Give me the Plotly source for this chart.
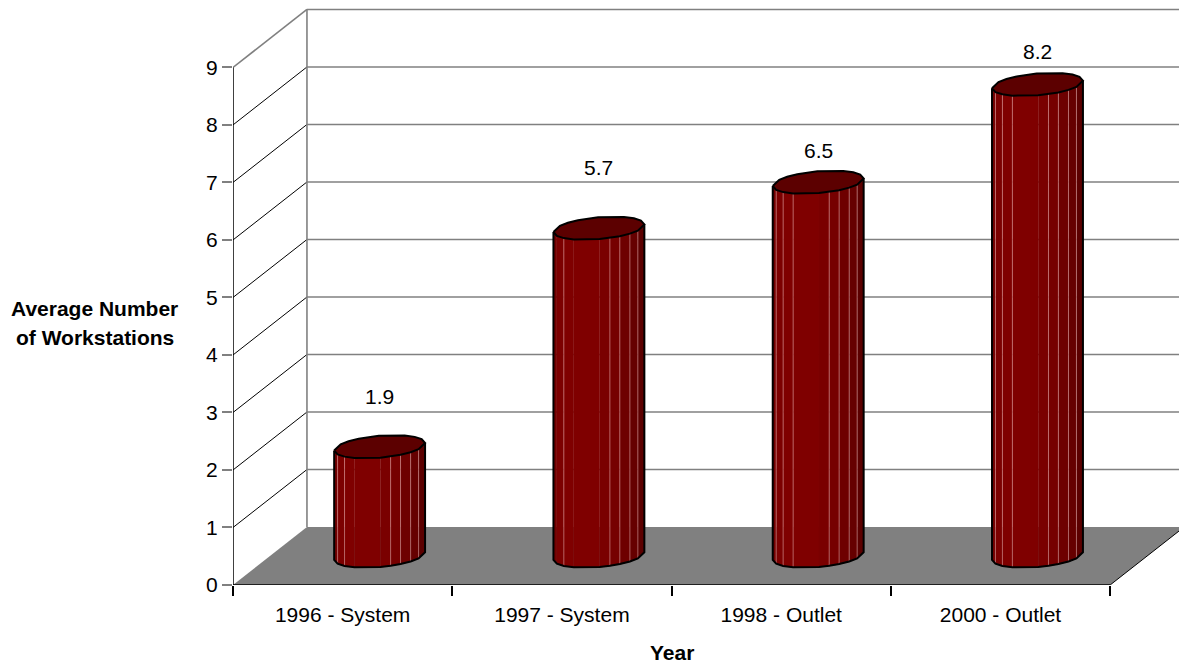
import math
import plotly.graph_objects as go

# Survey results
categories = ["1996 - System", "1997 - System", "1998 - Outlet", "2000 - Outlet"]
workstations = [1.9, 5.7, 6.5, 8.2]
y_ticks = [0, 1, 2, 3, 4, 5, 6, 7, 8, 9]
x_title = "Year"
y_title_lines = ["Average Number", "of Workstations"]
label_offsets = [50, 61, 32, 33]  # pixels between a column top and its value label

FONT = "Liberation Sans"
FONT_SIZE = 21
GREY = "#808080"
WIDTH, HEIGHT = 1179, 663
LEFT, BOTTOM = 232.5, 77.5
X_UNIT, Y_UNIT = 219.4, 57.56
DEPTH_X = 74 / X_UNIT  # horizontal run of the oblique depth axis, in category units
DEPTH_Y = 58 / Y_UNIT  # vertical rise of the oblique depth axis, in value units
RADIUS_X = 43 / X_UNIT
RADIUS_D = 0.2

# Facet corners around a column, in degrees (front half, left to right)
FRONT_ANGLES = [-161, -138.6, -121.5, -104.5, -70, -57, -43.6, -28, -12, 19]
BACK_ANGLES = [a + 180 for a in FRONT_ANGLES[:-1]]
FACET_COLORS = ["#740000", "#7c0000", "#7f0000", "#7f0000", "#7a0000",
                "#760000", "#6e0000", "#660000", "#5c0000"]
# Which facet edges catch the light on each column
STRIPES = [[1, 2, 5, 6, 7, 8], [2, 5, 6, 7, 8], [1, 2, 3, 5, 6, 7, 8], [1, 2, 3, 5, 6, 7, 8]]


def project(cat, depth, value):
    """Oblique projection from (category, depth, value) to axis coordinates."""
    return cat + depth * DEPTH_X, value + depth * DEPTH_Y


def line(points, color, width):
    return go.Scatter(x=[p[0] for p in points], y=[p[1] for p in points],
                      mode="lines", line=dict(color=color, width=width),
                      hoverinfo="skip", showlegend=False, cliponaxis=False)


def polygon(points, fill, outline=None, width=0):
    return go.Scatter(x=[p[0] for p in points], y=[p[1] for p in points],
                      mode="lines", fill="toself", fillcolor=fill,
                      line=dict(color=outline or fill, width=width),
                      hoverinfo="skip", showlegend=False, cliponaxis=False)


def rim(center, value, angle):
    t = math.radians(angle)
    return project(center + RADIUS_X * math.cos(t), 0.5 + RADIUS_D * math.sin(t), value)


fig = go.Figure()
count = len(categories)

# Floor
fig.add_trace(polygon([project(0, 0, 0), project(count, 0, 0),
                       project(count, 1, 0), project(0, 1, 0)], GREY))

# Back wall and side wall rules
for tick in y_ticks[1:]:
    fig.add_trace(line([project(0, 1, tick), project(count, 1, tick)], GREY, 1.6))
    fig.add_trace(line([project(0, 0, tick), project(0, 1, tick)],
                       GREY if tick == y_ticks[-1] else "#000000",
                       1.6 if tick == y_ticks[-1] else 1))
fig.add_trace(line([project(0, 1, y_ticks[0]), project(0, 1, y_ticks[-1])], GREY, 1.6))
fig.add_trace(line([project(count, 0, 0), project(count, 1, 0)], "#000000", 1))

# Columns
for i, value in enumerate(workstations):
    center = i + 0.5
    for k, fill in enumerate(FACET_COLORS):
        a0, a1 = FRONT_ANGLES[k], FRONT_ANGLES[k + 1]
        fig.add_trace(polygon([rim(center, 0, a0), rim(center, 0, a1),
                               rim(center, value, a1), rim(center, value, a0)], fill, fill, 0.5))
    for k in STRIPES[i]:
        fig.add_trace(line([rim(center, 0, FRONT_ANGLES[k]), rim(center, value, FRONT_ANGLES[k])],
                           "rgba(255,205,205,0.45)", 1))
    outline = ([rim(center, value, FRONT_ANGLES[0])]
               + [rim(center, 0, a) for a in FRONT_ANGLES]
               + [rim(center, value, FRONT_ANGLES[-1])])
    fig.add_trace(line(outline, "#000000", 2))
    top = [rim(center, value, a) for a in FRONT_ANGLES + BACK_ANGLES]
    fig.add_trace(polygon(top + top[:1], "#5c0000", "#000000", 2))

# Front axis lines
fig.add_trace(line([project(0, 0, 0), project(count, 0, 0)], "#000000", 1.5))
fig.add_trace(line([project(0, 0, y_ticks[0]), project(0, 0, y_ticks[-1])], "#000000", 1.5))

text_font = dict(family=FONT, size=FONT_SIZE, color="#000000")
annotations = [
    dict(x=i + 0.5 + 0.5 * DEPTH_X, y=value + 0.5 * DEPTH_Y, yshift=off, text=f"{value}",
         showarrow=False, font=text_font)
    for i, (value, off) in enumerate(zip(workstations, label_offsets))
]
annotations.append(dict(x=count / 2, y=0, yshift=-67, text=f"<b>{x_title}</b>",
                        showarrow=False, font=text_font))
for row, title_line in enumerate(y_title_lines):
    annotations.append(dict(xref="paper", x=0, xanchor="center", xshift=-138.5, y=y_ticks[5],
                            yshift=-11 - 29 * row, text=f"<b>{title_line}</b>",
                            showarrow=False, font=text_font))

fig.update_layout(
    width=WIDTH, height=HEIGHT, margin=dict(l=LEFT, r=0, t=0, b=BOTTOM, pad=0),
    paper_bgcolor="#ffffff", plot_bgcolor="#ffffff", showlegend=False,
    font=text_font,
    annotations=annotations,
    xaxis=dict(range=[0, (WIDTH - LEFT) / X_UNIT], showgrid=False, zeroline=False, showline=False,
               tickmode="array", tickvals=[i + 0.5 for i in range(count)], ticktext=categories,
               ticks="", ticklabelstandoff=15,
               minor=dict(tickmode="array", tickvals=list(range(count + 1)), ticks="outside",
                          ticklen=10, tickwidth=1.5, tickcolor="#000000", showgrid=False)),
    yaxis=dict(range=[0, (HEIGHT - BOTTOM) / Y_UNIT], showgrid=False, zeroline=False, showline=False,
               tickmode="array", tickvals=y_ticks, ticks="outside", ticklen=10, tickwidth=1.5,
               tickcolor=GREY),
)

fig.write_html("out.html")
